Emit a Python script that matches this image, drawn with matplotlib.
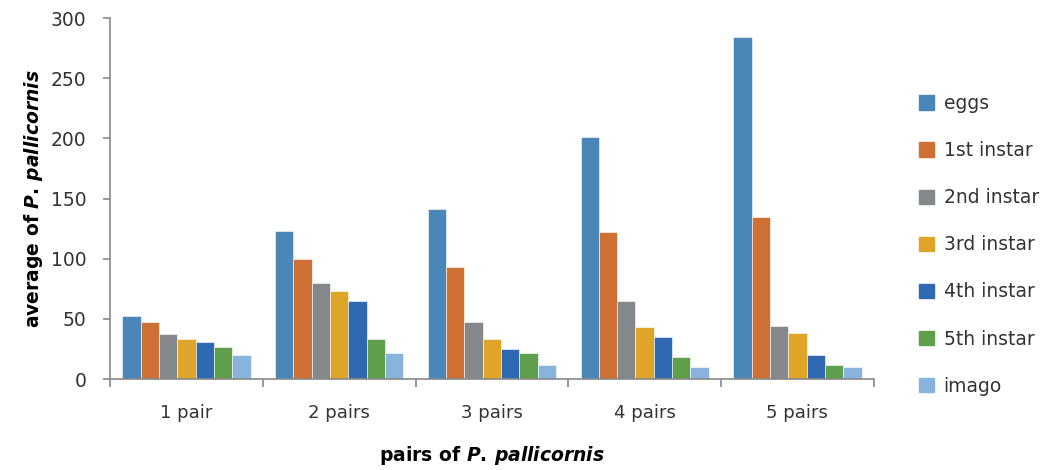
import matplotlib
matplotlib.use('Agg')
import matplotlib.pyplot as plt
import matplotlib.patches as mpatches
import numpy as np

plt.rcParams['font.family'] = ['DejaVu Sans']
plt.rcParams['mathtext.fontset'] = 'custom'
plt.rcParams['mathtext.it'] = 'DejaVu Sans:italic:bold'
plt.rcParams['mathtext.rm'] = 'DejaVu Sans:bold'

groups = ["1 pair", "2 pairs", "3 pairs", "4 pairs", "5 pairs"]
stages = ["eggs", "1st instar", "2nd instar", "3rd instar", "4th instar", "5th instar", "imago"]
eggs = [52, 123, 141, 201, 284]
inst1 = [47, 100, 93, 122, 135]
inst2 = [37, 80, 47, 65, 44]
inst3 = [33.5, 73.5, 33.5, 43.5, 38.5]
inst4 = [30.5, 65, 25, 35, 20]
inst5 = [27, 33.5, 22, 18.5, 12]
imago = [20, 22, 12, 10, 10]
series = [eggs, inst1, inst2, inst3, inst4, inst5, imago]
colors = ["#4A86B8", "#CE7036", "#85888B", "#DEA529", "#2F69B2", "#5F9E4B", "#88B3DD"]

fig = plt.figure(figsize=(10.63, 4.70), dpi=100)
ax = fig.add_axes([0.1035, 0.1936, 0.7185, 0.7681])

x = np.arange(len(groups))
bw = 0.12
for i, (vals, c) in enumerate(zip(series, colors)):
    ax.bar(x + (i - 3) * bw, vals, width=bw, color=c, edgecolor='white', linewidth=0.4)

ax.set_xlim(-0.5, len(groups) - 0.5)
ax.set_ylim(0, 300)
ax.set_yticks(range(0, 301, 50))
ax.set_xticks(np.arange(-0.5, len(groups), 1.0))
ax.set_xticklabels([])
ax.set_xticks(x, minor=True)
ax.set_xticklabels(groups, minor=True)
ax.tick_params(axis='x', which='major', length=6, color='#888888', width=1.2)
ax.tick_params(axis='x', which='minor', length=0, pad=18, labelsize=13, labelcolor='#333333')
ax.tick_params(axis='y', length=5, color='#888888', width=1.2, pad=12, labelsize=13.5, labelcolor='#333333')

for s in ['top', 'right']:
    ax.spines[s].set_visible(False)
for s in ['left', 'bottom']:
    ax.spines[s].set_color('#888888')
    ax.spines[s].set_linewidth(1.2)

ax.set_ylabel(r"average of $\mathit{P.\,pallicornis}$", fontsize=13.5, fontweight='bold', labelpad=4)
ax.set_xlabel(r"pairs of $\mathit{P.\,pallicornis}$", fontsize=13.5, fontweight='bold', labelpad=16)

handles = [mpatches.Patch(color=c, label=s) for s, c in zip(stages, colors)]
fig.legend(handles=handles, loc='upper left', bbox_to_anchor=(0.849, 0.836), frameon=False,
           fontsize=13.5, labelspacing=1.5, handlelength=0.8, handleheight=0.8, handletextpad=0.5,
           labelcolor='#333333')

plt.savefig("out.png", dpi=100)
plt.close()
